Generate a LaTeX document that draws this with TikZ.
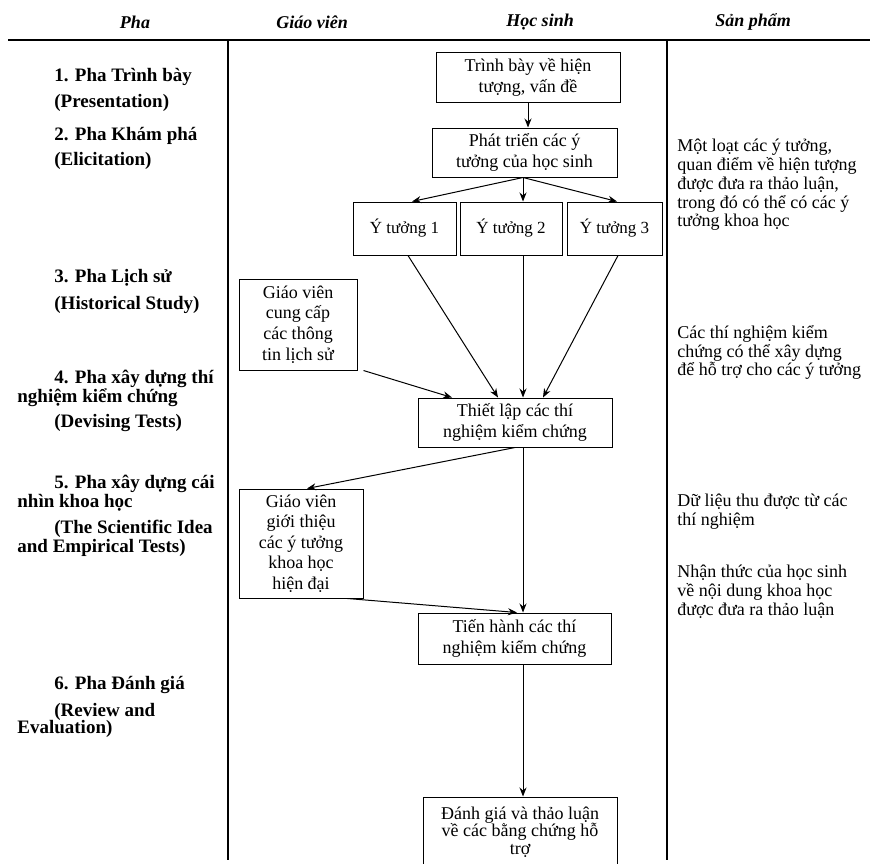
\documentclass[tikz,border=0pt]{standalone}
\usepackage{fontspec}
\setmainfont{Liberation Serif}
\usetikzlibrary{arrows.meta}

\begin{document}
\begin{tikzpicture}[x = 0.5pt, y = -0.5pt,
        stepbox/.style = {draw, line width=0.5pt, align=center, inner sep=1pt, font=\fontsize{9}{10.5}\selectfont},
        ideabox/.style = {stepbox, minimum width=51pt, minimum height=26.5pt, font=\fontsize{8.5}{10}\selectfont},
        teacherbox/.style = {stepbox, font=\fontsize{9}{10.3}\selectfont},
        flow/.style = {-{Stealth[length=4.5pt, width=3.5pt]}, line width=0.5pt},
        colhead/.style = {font=\fontsize{9}{11}\selectfont\bfseries\itshape},
        phasetext/.style = {anchor=north west, align=left, inner sep=0pt, font=\fontsize{9.5}{9.5}\selectfont\bfseries},
        outtext/.style = {anchor=north west, align=left, inner sep=0pt, font=\fontsize{9}{9.35}\selectfont}]

        \useasboundingbox (0,0) rectangle (870,863);
        \clip (0,0) rectangle (870,863);
        \fill[white] (0,0) rectangle (870,863);

        % Table
        \draw[line width=0.8pt] (8,40) -- (870,40);
        \draw[line width=0.8pt] (228,40) -- (228,860);
        \draw[line width=0.8pt] (667,40) -- (667,860);

        \node[colhead] (headPhase) at (135,22) {Pha};
        \node[colhead] (headTeacher) at (312,22) {Giáo viên};
        \node[colhead] (headStudent) at (540,22) {Học sinh};
        \node[colhead] (headProduct) at (753,22) {Sản phẩm};

        % Phases
        \node[phasetext] (phase1) at (17,68) {\hspace*{18.5pt}1. Pha Trình bày\\[3.5pt]\hspace*{18.5pt}(Presentation)};
        \node[phasetext] (phase2) at (17,127) {\hspace*{18.5pt}2. Pha Khám phá\\[3pt]\hspace*{18.5pt}(Elicitation)};
        \node[phasetext] (phase3) at (17,269) {\hspace*{18.5pt}3. Pha Lịch sử\\[4pt]\hspace*{18.5pt}(Historical Study)};
        \node[phasetext] (phase4) at (17,370) {\hspace*{18.5pt}4. Pha xây dựng thí\\nghiệm kiểm chứng\\[3pt]\hspace*{18.5pt}(Devising Tests)};
        \node[phasetext] (phase5) at (17,475) {\hspace*{18.5pt}5. Pha xây dựng cái\\nhìn khoa học\\[3.5pt]\hspace*{18.5pt}(The Scientific Idea\\and Empirical Tests)};
        \node[phasetext] (phase6) at (17,676) {\hspace*{18.5pt}6. Pha Đánh giá\\[4pt]\hspace*{18.5pt}(Review and\\[-1pt]Evaluation)};

        % Student column
        \node[stepbox, minimum width=92pt, minimum height=25pt] (present) at (528,77) {Trình bày về hiện\\tượng, vấn đề};
        \node[stepbox, minimum width=92.5pt, minimum height=24.5pt] (develop) at (524.5,152.5) {Phát triển các ý\\tưởng của học sinh};
        \node[ideabox, minimum width=51.5pt] (idea1) at (404.5,228.5) {Ý tưởng 1};
        \node[ideabox] (idea2) at (511,228.5) {Ý tưởng 2};
        \node[ideabox, minimum width=47.5pt] (idea3) at (614.5,228.5) {Ý tưởng 3};
        \node[stepbox, minimum width=97pt, minimum height=24.5pt] (devise) at (515,422.5) {Thiết lập các thí\\nghiệm kiểm chứng};
        \node[stepbox, minimum width=96.5pt, minimum height=25.5pt] (conduct) at (514.5,638.5) {Tiến hành các thí\\nghiệm kiểm chứng};
        \node[stepbox, minimum width=97pt, minimum height=35pt, font=\fontsize{9}{8.75}\selectfont] (review) at (520,832) {Đánh giá và thảo luận\\về các bằng chứng hỗ\\trợ};

        % Teacher column
        \node[teacherbox, minimum width=59pt, minimum height=45.5pt] (history) at (298,324.5) {Giáo viên\\cung cấp\\các thông\\tin lịch sử};
        \node[teacherbox, minimum width=62pt, minimum height=54.5pt] (modern) at (301,543.5) {Giáo viên\\giới thiệu\\các ý tưởng\\khoa học\\hiện đại};

        % Arrows
        \draw[flow] (present.south) -- (present.south |- develop.north);
        \draw[flow] ([xshift=-0.75pt]develop.south) -- ([xshift=3.75pt]idea1.north);
        \draw[flow] ([xshift=-0.75pt]develop.south) -- ([xshift=6pt]idea2.north);
        \draw[flow] ([xshift=-0.75pt]develop.south) -- ([xshift=1.25pt]idea3.north);
        \draw[flow] ([xshift=1.75pt]idea1.south) -- ([xshift=-8.5pt]devise.north);
        \draw[flow] ([xshift=6pt]idea2.south) -- ([xshift=4pt]devise.north);
        \draw[flow] ([xshift=1.75pt]idea3.south) -- ([xshift=14pt]devise.north);
        \draw[flow] ([xshift=3pt]history.south east) -- ([xshift=-31.5pt]devise.north);
        \draw[flow] (devise.south) -- ([xshift=3pt]modern.north);
        \draw[flow] ([xshift=4pt]devise.south) -- ([xshift=4.25pt]conduct.north);
        \draw[flow] ([xshift=-8pt]modern.south east) -- ([xshift=1.25pt]conduct.north);
        \draw[flow] ([xshift=4.25pt]conduct.south) -- ([xshift=1.5pt]review.north);

        % Products
        \node[outtext] (out1) at (677,139) {Một loạt các ý tưởng,\\quan điểm về hiện tượng\\được đưa ra thảo luận,\\trong đó có thể có các ý\\tưởng khoa học};
        \node[outtext] (out2) at (677,325) {Các thí nghiệm kiểm\\chứng có thể xây dựng\\để hỗ trợ cho các ý tưởng};
        \node[outtext] (out3) at (677,494) {Dữ liệu thu được từ các\\thí nghiệm};
        \node[outtext] (out4) at (677,565) {Nhận thức của học sinh\\về nội dung khoa học\\được đưa ra thảo luận};
    \end{tikzpicture}
\end{document}
